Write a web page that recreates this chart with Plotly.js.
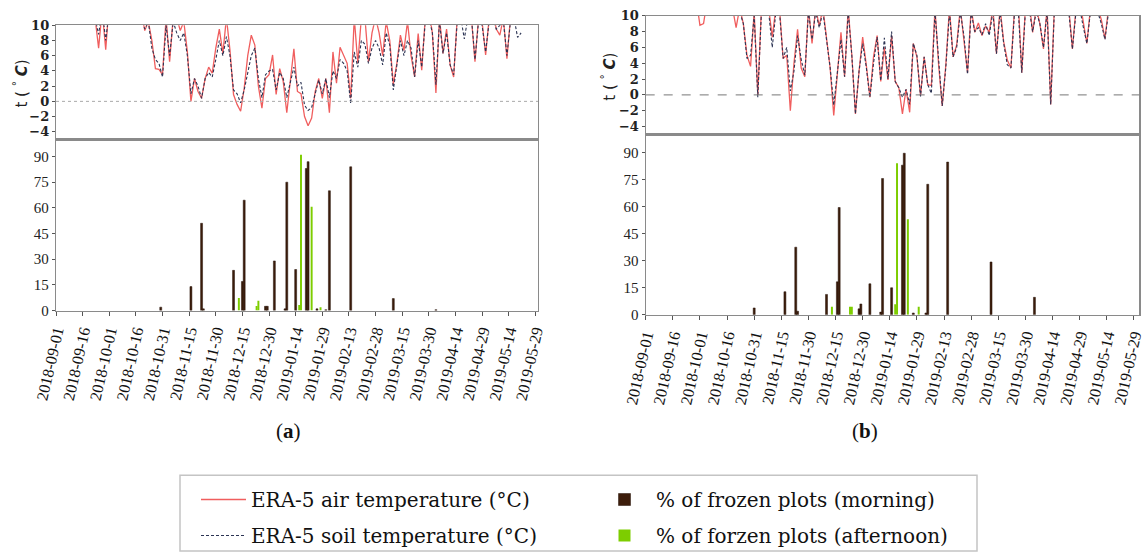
<!DOCTYPE html>
<html><head><meta charset="utf-8">
<script src="https://cdn.plot.ly/plotly-3.0.1.min.js"></script>
<style>html,body{margin:0;padding:0;background:#fff}#chart{width:1145px;height:555px}</style>
</head><body><div id="chart"></div>
<script>
// ---------- DATA ----------
const tempStart = '2018-09-01';   // first temperature sample, samples every 2 days
const tempStepDays = 2;

const airA = [16,15,14,17,15,13,16,14,13,15,
  12,11,7,12,6.8,13,14,12,15,13,
  12,14,11,13,12,9.3,10.5,8,4.3,4.2,
  3.5,11,5.2,11,11,9.3,10.5,6.5,0,3,
  1.3,0.4,3,4.5,3.7,7,9.5,6.3,11,6.7,
  0.9,-0.4,-1.3,1.7,6,8.7,7.4,2,-0.9,3,
  3.5,6.1,0.9,4.3,2.6,-1.5,3,6.9,1.3,1,
  -2,-3.2,-2.2,1.3,3,0.4,3,-1.5,6.5,2.4,
  7.1,6,5,0.4,11,5,11,11,5.2,9,
  11,9,6,10.5,8,2.2,5,8.7,6.7,10.5,
  6,3.2,8.9,4.1,11,12,9,1.1,11,6.3,
  9.5,4.8,3.2,11,12,11,12,11,5.2,11,
  10.5,6.1,11,12,9.5,8.7,11,5.6,11,12,
  11,12];
const soilA = [14,14,13,15,14,13,14,13,12,14,
  12,11,8.8,12,8,12,13,12,13,12,
  12,13,11,12,11,9.5,10.5,7,5.5,5,
  3.2,10,6,10.5,9,8,9,6,1,3,
  2,0.4,3,3.8,3.2,5.5,8,6,8.5,6,
  1.5,1,-0.2,1.5,4,6,7,3,0.5,3.5,
  4,4.2,1.5,3.8,3,0.5,2.5,4.5,2,2.5,
  -0.5,-1.2,-0.8,1,2.8,1,3,0.5,4,3,
  5.5,5,4,-0.3,6.5,4.5,8,7.5,5,7,
  8,7,4.8,9,7.4,1.5,5,8,6,8,
  7,3.2,8,4.5,10.5,11,9,2.2,10.5,6.3,
  9,4.8,3.5,10.5,11,8.2,11,11,5.5,10.5,
  10,6.5,10.5,11,9.5,10,10.5,6,10.5,11,
  8.4,9];
const airB = [15,14,16,14,15,13,16,14,13,15,
  14,12,14,13,12,8.8,9,12,14,13,
  12,14,13,12,11,8.5,11,9,5,3.6,
  10.5,0,11,12,11,7.3,11,11,4.6,5,
  -2,4,8.3,3.4,2.3,11,6.5,11,8.7,11,
  7.1,3.4,-2.6,3,7.9,2.3,11,5,-2.4,3,
  7.3,3.8,-0.3,4.8,7.5,1.7,6,1.9,7.5,1.7,
  0.9,-2.4,0.7,-2.2,6.5,4.8,-0.1,4.8,1.3,1.2,
  11,3.8,-1.4,3.8,11,4.8,6.3,11,7.1,2.8,
  11,7.9,9.1,7.5,8.7,7.9,11,5.2,11,6.7,
  4.4,3.4,11,12,2.8,11,12,7.9,11,9,
  5.8,11,-1.2,11,12,11,12,11,5.8,11,
  12,9.5,6.5,11,12,11,9.5,7.1,11,12,
  10.5,12];
const soilB = [14,13,15,13,14,12,15,13,12,14,
  13,11,13,12,11,10.5,10.5,11,13,12,
  11,13,12,11,10.5,10.5,10.5,9,4.6,5,
  10,-0.3,10.5,11,10.5,6,10.5,10.5,4.6,6,
  0.5,3,7.5,4.5,2.5,10.5,7,10.5,8.5,10.5,
  7,3.5,-1.3,2.5,7,2.3,10.5,5,-2.4,3,
  6.5,3.5,-0.3,4,7.3,1.8,7.2,2,8,1.7,
  0.9,-0.3,0.7,-1.2,6.5,5,-0.2,4.8,1.3,0.2,
  10.5,4.5,-1.4,3.5,10.5,4.8,6,10.5,7.5,2.6,
  10.5,8,8.5,7.6,9,7.5,10.5,5.2,10.5,6.5,
  3.8,3.4,10.5,11,2.8,10.5,11,8,10.5,9,
  6,10.5,-1.2,10.5,11,10.5,11,10.5,5.8,10.5,
  11,8.6,6.5,10.5,11,10.5,9,7,10.5,11,
  10.5,11];

const morningDatesA = ['2018-10-30','2018-11-16','2018-11-22','2018-11-23','2018-12-10','2018-12-15','2018-12-16','2018-12-28','2018-12-29','2019-01-02','2019-01-08','2019-01-09','2019-01-14','2019-01-20','2019-01-21','2019-01-26','2019-01-31','2019-02-02','2019-02-14','2019-03-10','2019-04-03'];
const morningA = [2,14,51,1,23.5,17,64.5,2.5,2.5,29,1,75,24,83,87,1,0.5,70,84,7,0.5];
const afternoonDatesA = ['2018-12-13','2018-12-23','2018-12-24','2019-01-16','2019-01-17','2019-01-23','2019-01-28'];
const afternoonA = [7.3,2.7,5.8,3.3,91,60.7,2];

const morningDatesB = ['2018-10-31','2018-11-17','2018-11-23','2018-11-24','2018-12-10','2018-12-16','2018-12-17','2018-12-28','2018-12-29','2019-01-03','2019-01-09','2019-01-10','2019-01-15','2019-01-21','2019-01-22','2019-01-27','2019-02-03','2019-02-04','2019-02-15','2019-03-11','2019-04-04'];
const morningB = [3.8,12.8,37.5,2,11.3,18.3,59.5,3.3,6,17.2,1.5,75.6,15,83,89.6,1,1,72.4,84.7,29.3,9.7];
const afternoonDatesB = ['2018-12-13','2018-12-23','2018-12-24','2019-01-17','2019-01-18','2019-01-24','2019-01-30'];
const afternoonB = [4.4,4.4,4.4,5.8,84,53,4.4];

const dateTicks = ['2018-09-01','2018-09-16','2018-10-01','2018-10-16','2018-10-31','2018-11-15','2018-11-30','2018-12-15','2018-12-30','2019-01-14','2019-01-29','2019-02-13','2019-02-28','2019-03-15','2019-03-30','2019-04-14','2019-04-29','2019-05-14','2019-05-29'];
const tempTicks = [-4,-2,0,2,4,6,8,10];
const pctTicks = [0,15,30,45,60,75,90];

const seriesNames = ['ERA-5 air temperature (°C)','ERA-5 soil temperature (°C)','% of frozen plots (morning)','% of forzen plots (afternoon)'];

// ---------- HELPERS ----------
function sampleDates(start, step, n){
  const out=[]; const t0=Date.parse(start+'T00:00:00Z');
  for(let i=0;i<n;i++){ out.push(new Date(t0+i*step*86400000).toISOString().slice(0,10)); }
  return out;
}
const W=1145, H=555;
const fx = p => p/W;
const fy = p => 1 - p/H;

const RED='#f05e5e', NAVY='#2c3454', BROWN='#3d1d0b', GREEN='#7dcd00';
const SERIF='"Liberation Serif","DejaVu Serif",serif';
const WIDE='"DejaVu Serif",serif';
const dayMs=86400000;

const tdA = sampleDates(tempStart, tempStepDays, airA.length);
const tdB = sampleDates(tempStart, tempStepDays, airB.length);

const traces = [
  {type:'scatter',mode:'lines',x:tdA,y:airA,xaxis:'x',yaxis:'y',name:seriesNames[0],line:{color:RED,width:1.3},legend:'legend',legendgroup:'g1'},
  {type:'scatter',mode:'lines',x:tdA,y:soilA,xaxis:'x',yaxis:'y',name:seriesNames[1],line:{color:NAVY,width:1.1,dash:'3px,2px'},legend:'legend',legendgroup:'g2'},
  {type:'bar',x:morningDatesA,y:morningA,xaxis:'x2',yaxis:'y2',name:seriesNames[2],width:1.1*dayMs,marker:{color:BROWN,line:{width:0.5,color:'#241006'}},legend:'legend2',legendgroup:'g3'},
  {type:'bar',x:afternoonDatesA,y:afternoonA,xaxis:'x2',yaxis:'y2',name:seriesNames[3],width:1.1*dayMs,marker:{color:GREEN,line:{width:0}},legend:'legend2',legendgroup:'g4'},
  {type:'scatter',mode:'lines',x:tdB,y:airB,xaxis:'x3',yaxis:'y3',name:seriesNames[0],line:{color:RED,width:1.3},showlegend:false},
  {type:'scatter',mode:'lines',x:tdB,y:soilB,xaxis:'x3',yaxis:'y3',name:seriesNames[1],line:{color:NAVY,width:1.1,dash:'3px,2px'},showlegend:false},
  {type:'bar',x:morningDatesB,y:morningB,xaxis:'x4',yaxis:'y4',name:seriesNames[2],width:1.1*dayMs,marker:{color:BROWN,line:{width:0.5,color:'#241006'}},showlegend:false},
  {type:'bar',x:afternoonDatesB,y:afternoonB,xaxis:'x4',yaxis:'y4',name:seriesNames[3],width:1.1*dayMs,marker:{color:GREEN,line:{width:0}},showlegend:false}
];

const lineCol='#8a8a8a';
function tempX(dom, rng){ return {domain:dom,range:rng,type:'date',showticklabels:false,ticks:'',showgrid:false,zeroline:false,showline:true,mirror:true,linecolor:lineCol,linewidth:1.2}; }
function tempY(dom, anchor){ return {domain:dom,anchor:anchor,range:[-5,10],tickvals:tempTicks,ticks:'outside',ticklen:3,tickcolor:'#555',tickfont:{family:WIDE,size:13,color:'#222',weight:'bold'},showgrid:false,zeroline:false,showline:true,mirror:true,linecolor:lineCol,linewidth:1.2}; }
function barX(dom, rng, anchor){ return {domain:dom,anchor:anchor,range:rng,type:'date',tickvals:dateTicks,ticktext:dateTicks,tickangle:-77,ticks:'outside',ticklen:4,tickcolor:'#555',tickfont:{family:SERIF,size:16,color:'#111'},showgrid:false,zeroline:false,showline:true,mirror:true,linecolor:lineCol,linewidth:1.2}; }
function barY(dom, anchor){ return {domain:dom,anchor:anchor,range:[0,100],tickvals:pctTicks,ticks:'outside',ticklen:3,tickcolor:'#555',tickfont:{family:SERIF,size:15,color:'#222'},showgrid:false,zeroline:false,showline:true,mirror:true,linecolor:lineCol,linewidth:1.2}; }

const domXA=[fx(56),fx(538)], domXB=[fx(645.7),fx(1139.3)];
const rngA=['2018-09-01','2019-05-30 12:00'], rngB=['2018-09-01','2019-06-01'];

const legFont={family:WIDE,size:20,color:'#111'};
const layout = {
  width:W,height:H,margin:{l:0,r:0,t:0,b:0},paper_bgcolor:'#fff',plot_bgcolor:'#fff',
  barmode:'overlay',showlegend:true,
  xaxis:Object.assign(tempX(domXA,rngA),{anchor:'y'}),
  yaxis:tempY([fy(141.7),fy(25.7)],'x'),
  xaxis2:barX(domXA,rngA,'y2'),
  yaxis2:barY([fy(315.7),fy(141.7)],'x2'),
  xaxis3:Object.assign(tempX(domXB,rngB),{anchor:'y3'}),
  yaxis3:tempY([fy(136.7),fy(16)],'x3'),
  xaxis4:barX(domXB,rngB,'y4'),
  yaxis4:barY([fy(320),fy(136.7)],'x4'),
  legend:{x:fx(196),y:fy(488),xanchor:'left',yanchor:'top',bgcolor:'rgba(0,0,0,0)',font:legFont,tracegroupgap:7,itemwidth:45},
  legend2:{x:fx(593),y:fy(488),xanchor:'left',yanchor:'top',bgcolor:'rgba(0,0,0,0)',font:legFont,tracegroupgap:7,itemwidth:53},
  shapes:[
    {type:'line',xref:'x domain',yref:'y',x0:0,x1:1,y0:0,y1:0,line:{color:'#aaa',width:1,dash:'dot'}},
    {type:'line',xref:'x3 domain',yref:'y3',x0:0,x1:1,y0:0,y1:0,line:{color:'#777',width:1,dash:'dash'}},
    {type:'rect',xref:'paper',yref:'paper',x0:fx(180),x1:fx(977),y0:fy(560),y1:fy(483),line:{color:'#c4c4c4',width:1.5}}
  ],
  annotations:[
    {xref:'paper',yref:'paper',x:fx(20),y:fy(85),xanchor:'center',yanchor:'middle',text:'t ( <sup>°</sup> <b><i>C</i></b>)',textangle:-90,showarrow:false,font:{family:'"DejaVu Sans",sans-serif',size:15,color:'#222'}},
    {xref:'paper',yref:'paper',x:fx(608),y:fy(78),xanchor:'center',yanchor:'middle',text:'t ( <sup>°</sup> <b><i>C</i></b>)',textangle:-90,showarrow:false,font:{family:'"DejaVu Sans",sans-serif',size:15,color:'#222'}},
    {xref:'paper',yref:'paper',x:fx(274),y:fy(452),text:'(<b>a</b>)',showarrow:false,font:{family:SERIF,size:21,color:'#111'}},
    {xref:'paper',yref:'paper',x:fx(880),y:fy(452),text:'(<b>b</b>)',showarrow:false,font:{family:SERIF,size:21,color:'#111'}}
  ]
};

Plotly.newPlot('chart',traces,layout,{displayModeBar:false,staticPlot:true});
</script></body></html>
